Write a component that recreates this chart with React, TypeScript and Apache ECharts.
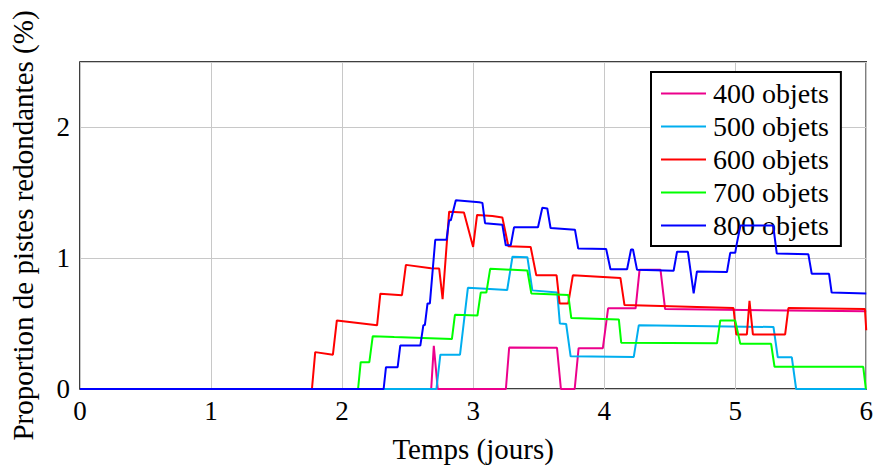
import React, { useEffect, useRef } from "react";
import * as echarts from "echarts";

const seriesNames = ["400 objets", "500 objets", "600 objets", "700 objets", "800 objets"];
const seriesColors = ["#EC008C", "#00AEEF", "#FF0000", "#00FF00", "#0000FF"];

const s400: [number, number][] = [
  [0, 0], [2.68, 0], [2.70, 0.33], [2.73, 0], [3.25, 0], [3.275, 0.317], [3.64, 0.315], [3.67, 0],
  [3.775, 0], [3.805, 0.312], [3.99, 0.312], [4.03, 0.617], [4.24, 0.617], [4.27, 0.911],
  [4.43, 0.911], [4.465, 0.611], [6.0, 0.594],
];

const s500: [number, number][] = [
  [0, 0], [2.72, 0], [2.75, 0.262], [2.90, 0.262], [2.96, 0.774], [3.26, 0.757], [3.30, 1.011],
  [3.414, 1.008], [3.452, 0.754], [3.642, 0.737], [3.662, 0.5], [3.71, 0.497], [3.744, 0.25],
  [4.226, 0.245], [4.264, 0.487], [5.292, 0.474], [5.325, 0.242], [5.432, 0.242], [5.465, 0], [6, 0],
];

const s600: [number, number][] = [
  [0, 0], [1.77, 0], [1.795, 0.282], [1.93, 0.262], [1.96, 0.524], [2.267, 0.487], [2.292, 0.729],
  [2.457, 0.717], [2.487, 0.949], [2.678, 0.924], [2.741, 0.921], [2.767, 0.687], [2.817, 1.356],
  [2.93, 1.35], [3.0, 1.086], [3.03, 1.331], [3.147, 1.323], [3.223, 1.311], [3.269, 1.091],
  [3.439, 1.086], [3.482, 0.869], [3.637, 0.869], [3.66, 0.654], [3.726, 0.654], [3.761, 0.869],
  [4.124, 0.849], [4.155, 0.642], [4.987, 0.619], [5.008, 0.417], [5.089, 0.417], [5.109, 0.674],
  [5.135, 0.417], [5.381, 0.417], [5.406, 0.619], [5.99, 0.611], [6.0, 0.449],
];

const s700: [number, number][] = [
  [0, 0], [2.122, 0], [2.142, 0.205], [2.208, 0.205], [2.234, 0.404], [2.398, 0.397], [2.838, 0.382],
  [2.861, 0.567], [3.033, 0.562], [3.058, 0.737], [3.101, 0.737], [3.13, 0.919], [3.414, 0.906],
  [3.444, 0.731], [3.726, 0.719], [3.749, 0.542], [4.112, 0.532], [4.13, 0.354], [4.861, 0.349],
  [4.886, 0.524], [5.0, 0.524], [5.039, 0.345], [5.274, 0.345], [5.30, 0.17], [5.977, 0.17], [5.997, 0],
];

const s800: [number, number][] = [
  [0, 0], [2.317, 0], [2.335, 0.167], [2.424, 0.167], [2.444, 0.332], [2.597, 0.332], [2.62, 0.487],
  [2.632, 0.49], [2.652, 0.654], [2.67, 0.654], [2.711, 1.141], [2.797, 1.141], [2.817, 1.291],
  [2.83, 1.291], [2.868, 1.443], [3.046, 1.428], [3.071, 1.423], [3.091, 1.268], [3.223, 1.255],
  [3.249, 1.099], [3.287, 1.099], [3.312, 1.236], [3.495, 1.236], [3.528, 1.386], [3.566, 1.38],
  [3.591, 1.231], [3.777, 1.218], [3.802, 1.074], [4.015, 1.071], [4.048, 0.916], [4.175, 0.916],
  [4.205, 1.066], [4.22, 1.066], [4.251, 0.911], [4.53, 0.904], [4.556, 1.049], [4.639, 1.049],
  [4.683, 0.731], [4.708, 0.899], [4.937, 0.894], [4.962, 1.041], [5.0, 1.041], [5.01, 1.1],
  [5.04, 1.25], [5.29, 1.25], [5.317, 1.036], [5.558, 1.031], [5.584, 0.881], [5.716, 0.881],
  [5.736, 0.737], [6.0, 0.731],
];

const allSeries = [s400, s500, s600, s700, s800];

const FONT = "'Liberation Serif', 'DejaVu Serif', serif";

export default function App() {
  const ref = useRef<HTMLDivElement>(null);
  useEffect(() => {
    document.body.style.margin = "0";
    if (!ref.current) return;
    const chart = echarts.init(ref.current, undefined, { renderer: "svg" });
    chart.setOption({
      animation: false,
      backgroundColor: "#ffffff",
      textStyle: { fontFamily: FONT },
      grid: {
        left: 80,
        right: 8,
        top: 62,
        bottom: 73,
        show: true,
        borderColor: "#000000",
        borderWidth: 1.5,
        backgroundColor: "transparent",
      },
      legend: {
        left: 651,
        top: 72,
        orient: "vertical",
        padding: [5, 12, 4, 10],
        itemGap: 0,
        itemWidth: 45,
        itemHeight: 2,
        icon: "rect",
        borderColor: "#000000",
        borderWidth: 2,
        backgroundColor: "#ffffff",
        textStyle: {
          fontFamily: FONT,
          fontSize: 28,
          color: "#000000",
          lineHeight: 33,
          padding: [0, 0, 0, 2],
        },
        data: seriesNames,
      },
      xAxis: {
        type: "value",
        min: 0,
        max: 6,
        interval: 1,
        name: "Temps (jours)",
        nameLocation: "middle",
        nameGap: 45,
        nameTextStyle: { fontFamily: FONT, fontSize: 29, color: "#000000" },
        axisLine: { show: false },
        axisTick: { show: false },
        axisLabel: { fontFamily: FONT, fontSize: 27, color: "#000000", margin: 8 },
        splitLine: { show: true, lineStyle: { color: "#c8c8c8", width: 1 } },
      },
      yAxis: {
        type: "value",
        min: 0,
        max: 2.5,
        interval: 1,
        name: "Proportion de pistes redondantes (%)",
        nameLocation: "middle",
        nameGap: 43,
        nameTextStyle: { fontFamily: FONT, fontSize: 29, color: "#000000" },
        axisLine: { show: false },
        axisTick: { show: false },
        axisLabel: {
          fontFamily: FONT,
          fontSize: 27,
          color: "#000000",
          margin: 10,
          formatter: (v: number) => (Number.isInteger(v) ? String(v) : ""),
        },
        splitLine: { show: true, lineStyle: { color: "#c8c8c8", width: 1 } },
      },
      series: allSeries.map((d, i) => ({
        name: seriesNames[i],
        type: "line",
        data: d,
        symbol: "none",
        showSymbol: false,
        lineStyle: { color: seriesColors[i], width: 2 },
        itemStyle: { color: seriesColors[i] },
        z: 2 + i,
      })),
    });
    return () => chart.dispose();
  }, []);
  return <div ref={ref} style={{ width: 876, height: 468 }} />;
}
